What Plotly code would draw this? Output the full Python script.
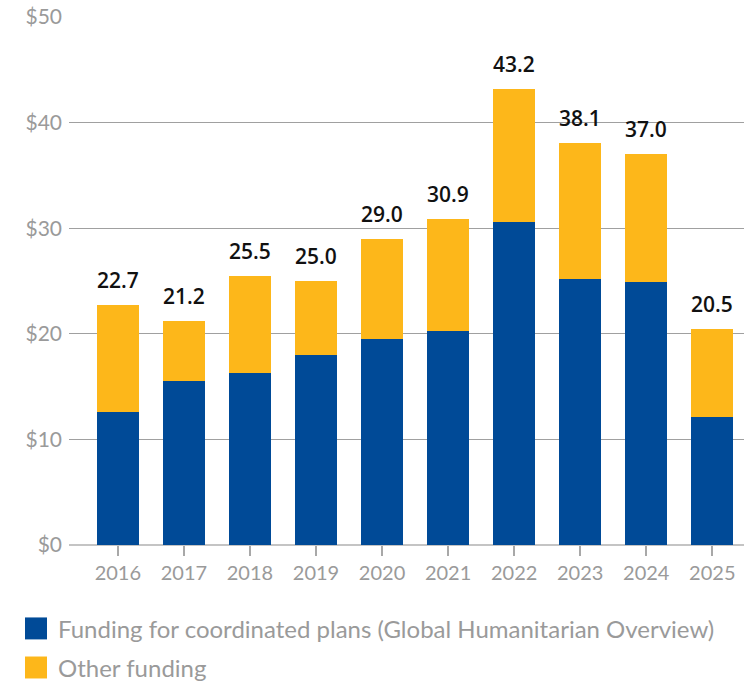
import plotly.graph_objects as go

years = ["2016", "2017", "2018", "2019", "2020", "2021", "2022", "2023", "2024", "2025"]
coordinated = [12.6, 15.5, 16.3, 18.0, 19.5, 20.3, 30.6, 25.2, 24.9, 12.1]
totals = [22.7, 21.2, 25.5, 25.0, 29.0, 30.9, 43.2, 38.1, 37.0, 20.5]
other = [round(t - c, 1) for t, c in zip(totals, coordinated)]
total_labels = [f"{t:.1f}" for t in totals]
y_ticks = [0, 10, 20, 30, 40, 50]
y_ticklabels = [f"${v}" for v in y_ticks]

series_names = ["Funding for coordinated plans (Global Humanitarian Overview)", "Other funding"]
BLUE = "#004a97"
YELLOW = "#fdb71a"
GREY = "#9a9a9a"
FONT = "Lato"

fig = go.Figure()
fig.add_trace(go.Bar(x=years, y=coordinated, marker_color=BLUE, marker_line_width=0,
                     name=series_names[0], showlegend=False))
fig.add_trace(go.Bar(x=years, y=other, marker_color=YELLOW, marker_line_width=0,
                     name=series_names[1], showlegend=False))

for i, (tot, lab) in enumerate(zip(totals, total_labels)):
    fig.add_annotation(x=i, y=tot, xref="x", yref="y", text=lab, showarrow=False,
                       yanchor="bottom", yshift=9,
                       font=dict(family="Open Sans", size=21, color="#111111", weight=600))

fig.update_layout(
    barmode="stack",
    bargap=0.36,
    width=744, height=681,
    margin=dict(l=69, r=0, t=17, b=136),
    paper_bgcolor="white", plot_bgcolor="white",
    font=dict(family=FONT, color=GREY),
    xaxis=dict(
        type="category",
        range=[-0.74, 9.48],
        showgrid=False,
        ticks="outside", ticklen=10, tickwidth=1.5, tickcolor="#a8a8a8",
        tickfont=dict(family=FONT, size=20, color=GREY),
        showline=False, zeroline=False,
    ),
    yaxis=dict(
        range=[0, 50],
        tickmode="array",
        tickvals=y_ticks,
        ticktext=y_ticklabels,
        tickfont=dict(family=FONT, size=21, color=GREY),
        gridcolor="#a0a0a0", gridwidth=1,
        zeroline=True, zerolinecolor="#c4c4c4", zerolinewidth=2,
        ticklabelstandoff=6,
        showline=False,
    ),
)

# Legend drawn as large squares with labels below the plot
legend_rows = [(-0.158, BLUE, series_names[0]), (-0.232, YELLOW, series_names[1])]
for yc, col, label in legend_rows:
    fig.add_shape(type="rect", xref="paper", yref="paper",
                  x0=-0.0652, x1=-0.0326, y0=yc - 0.0208, y1=yc + 0.0208,
                  fillcolor=col, line_width=0)
    fig.add_annotation(xref="paper", yref="paper", x=-0.0163, y=yc,
                       text=label, showarrow=False, xanchor="left", yanchor="middle",
                       xshift=-2,
                       font=dict(family=FONT, size=24, color=GREY))

fig.write_html("out.html")
